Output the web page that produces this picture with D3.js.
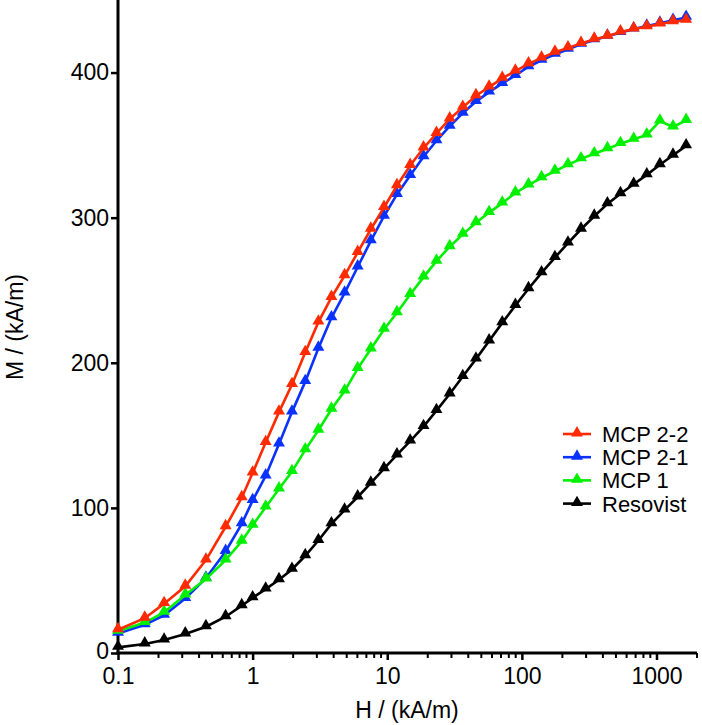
<!DOCTYPE html>
<html><head><meta charset="utf-8">
<script src="https://cdn.jsdelivr.net/npm/d3@7"></script>
<style>html,body{margin:0;padding:0;background:#fff;}svg{display:block;font-family:"Liberation Sans",Arial,sans-serif;}</style>
</head><body>
<svg id="chart" width="702" height="725"></svg>
<script>
// H / (kA/m) values shared by all series
const H = [0.1, 0.158, 0.22, 0.316, 0.45, 0.63, 0.83,
  1.0, 1.25, 1.57, 1.96, 2.46, 3.08, 3.85, 4.82, 6.03, 7.55, 9.46, 11.8, 14.8, 18.6, 23.2, 29.1,
  36.4, 45.6, 57.1, 71.5, 89.5, 112, 140, 176, 220, 275, 345, 432, 540, 677, 847, 1060, 1327, 1660];

const mcp22 = [16, 24, 34, 46, 64, 87, 107,
  124, 145, 166, 185, 207, 228, 245, 260, 276, 292, 307, 322, 336, 348, 358, 368,
  376, 384, 390, 396, 401, 406, 410, 414, 417, 420, 423, 425, 428, 430, 431.5, 433.5, 435, 436];
const mcp21 = [13.5, 19.5, 26, 37.5, 51.5, 70, 89,
  105, 122, 144, 166, 187, 210, 231, 248, 266, 284, 301, 316, 329, 342, 353, 363,
  372, 380, 386.5, 392.5, 398, 404, 408.5, 412.5, 416, 419.5, 422.5, 425, 427.5, 430, 432, 434, 436, 438];
const mcp1 = [15, 21, 28, 40, 51, 64, 77,
  88, 100.5, 113, 125, 140, 153.5, 168, 180.5, 196, 209.5, 223, 234.5, 247, 259, 270, 280,
  288.5, 296.5, 303.5, 310, 317, 322.5, 327.5, 332, 336.5, 340.5, 344, 347.5, 351, 354, 357, 366.5, 362.5, 367];
const resovist = [3.9, 6.2, 8.9, 13.1, 18.1, 25, 32.6,
  38, 44, 50.5, 57.6, 67, 77.5, 89, 98.5, 107.5, 117, 127, 136.5, 146, 156, 167, 178.5,
  190.5, 202.5, 215, 227.5, 239.5, 251, 262, 272.5, 282.5, 292, 301, 309.5, 316.5, 323, 329.5, 336.5, 343, 349.5];

const seriesNames = ["MCP 2-2", "MCP 2-1", "MCP 1", "Resovist"];
const seriesColors = ["#ff2a00", "#0a32ff", "#00f000", "#000000"];
const seriesValues = [mcp22, mcp21, mcp1, resovist];

const xTicks = [0.1, 1, 10, 100, 1000];
const xTickLabels = ["0.1", "1", "10", "100", "1000"];
const yTicks = [0, 100, 200, 300, 400];

const FONT = "Liberation Sans, Arial, sans-serif";
const svg = d3.select("#chart");
const x = d3.scaleLog().domain([0.1, 2000]).range([118, 697]);
const y = d3.scaleLinear().domain([0, 450]).range([653, 0]);

// minor ticks
const minor = [];
for (let e = -1; e <= 3; e++) for (let m = 2; m <= 9; m++) { const v = m * Math.pow(10, e); if (v <= 2000) minor.push(v); }

const gx = svg.append("g").attr("transform", "translate(0,653)");
gx.selectAll("line.minor").data(minor).join("line").attr("class","minor")
  .attr("x1", d => x(d)).attr("x2", d => x(d)).attr("y1", 0).attr("y2", 5)
  .attr("stroke", "#000").attr("stroke-width", 2);
gx.call(d3.axisBottom(x).tickValues(xTicks).tickFormat((d, i) => xTickLabels[i]).tickSize(7).tickSizeOuter(0).tickPadding(8))
  .call(g => g.select(".domain").remove());
gx.selectAll(".tick line").attr("stroke-width", 2.5);
gx.selectAll(".tick text").attr("font-size", 23).attr("font-family", FONT).attr("fill", "#000");
gx.append("line").attr("x1", x(0.1) - 1.5).attr("x2", x(2000)).attr("y1", 0).attr("y2", 0).attr("stroke", "#000").attr("stroke-width", 3);

const gy = svg.append("g").attr("transform", "translate(118,0)");
gy.call(d3.axisLeft(y).tickValues(yTicks).tickSize(7).tickSizeOuter(0).tickPadding(2))
  .call(g => g.select(".domain").remove());
gy.selectAll(".tick line").attr("stroke-width", 2.5);
gy.selectAll(".tick text").attr("font-size", 23).attr("font-family", FONT).attr("fill", "#000");
gy.selectAll(".tick").filter(d => d === 0).select("text").attr("dy", "0.22em");
gy.append("line").attr("x1", 0).attr("x2", 0).attr("y1", 0).attr("y2", 654.5).attr("stroke", "#000").attr("stroke-width", 3);

svg.append("text").attr("x", 407).attr("y", 718).attr("text-anchor", "middle")
  .attr("font-size", 23).text("H / (kA/m)");
svg.append("text").attr("transform", "translate(23,327) rotate(-90)").attr("text-anchor", "middle")
  .attr("font-size", 23).text("M / (kA/m)");

const tri = d3.symbol().type(d3.symbolTriangle).size(62);
const line = d3.line().x(d => x(d[0])).y(d => y(d[1]));

const order = [3, 1, 2, 0];
order.forEach(i => {
  const pts = H.map((h, j) => [h, seriesValues[i][j]]);
  const g = svg.append("g");
  g.append("path").attr("d", line(pts)).attr("fill", "none").attr("stroke", seriesColors[i]).attr("stroke-width", 2.6);
  g.selectAll("path.m").data(pts).join("path").attr("class", "m")
    .attr("d", tri).attr("transform", d => `translate(${x(d[0])},${y(d[1]) - 1})`)
    .attr("fill", seriesColors[i]);
});

// legend
const lg = svg.append("g");
seriesNames.forEach((n, i) => {
  const yy = 434 + i * 23.2;
  lg.append("line").attr("x1", 563).attr("x2", 591).attr("y1", yy).attr("y2", yy).attr("stroke", seriesColors[i]).attr("stroke-width", 2.6);
  lg.append("path").attr("d", tri).attr("transform", `translate(577,${yy - 1})`).attr("fill", seriesColors[i]);
  lg.append("text").attr("x", 602).attr("y", yy + 8).attr("font-size", 22).text(n);
});
</script>
</body></html>
